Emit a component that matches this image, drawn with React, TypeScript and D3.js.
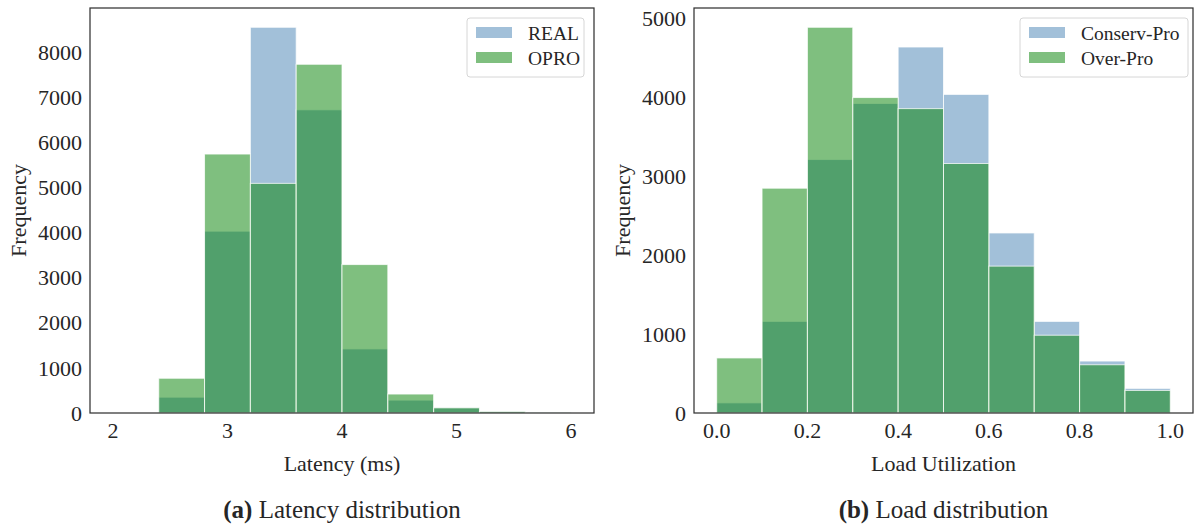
import React from 'react';
import * as d3 from 'd3';

// bin edges and counts
const latencyEdges = [2.0, 2.4, 2.8, 3.2, 3.6, 4.0, 4.4, 4.8, 5.2, 5.6, 6.0];
const realLatency = [0, 350, 4030, 8550, 6720, 1420, 285, 115, 35, 20];
const oproLatency = [0, 770, 5740, 5090, 7730, 3290, 420, 115, 35, 4];
const latencyXTicks = [2, 3, 4, 5, 6];
const latencyYTicks = [0, 1000, 2000, 3000, 4000, 5000, 6000, 7000, 8000];

const loadEdges = [0.0, 0.1, 0.2, 0.3, 0.4, 0.5, 0.6, 0.7, 0.8, 0.9, 1.0];
const conservLoad = [128, 1160, 3210, 3920, 4635, 4035, 2280, 1160, 658, 312];
const overLoad = [697, 2847, 4885, 3995, 3855, 3160, 1860, 985, 611, 286];
const loadXTicks = [0.0, 0.2, 0.4, 0.6, 0.8, 1.0];
const loadYTicks = [0, 1000, 2000, 3000, 4000, 5000];

const BLUE = '#4682b4';
const GREEN = '#008000';
const FONT = '"Liberation Serif", "Times New Roman", serif';

type Panel = {
  left: number;
  right: number;
  edges: number[];
  seriesA: number[];
  seriesB: number[];
  labelA: string;
  labelB: string;
  xTicks: number[];
  yTicks: number[];
  xFmt: (v: number) => string;
  xLabel: string;
  caption: string;
  captionText: string;
  legendW: number;
  legendGap: number;
};

const top = 8;
const bottom = 413;

const Hist = ({ p }: { p: Panel }) => {
  const lo = p.edges[0];
  const hi = p.edges[p.edges.length - 1];
  const pad = (hi - lo) * 0.05;
  const x = d3.scaleLinear().domain([lo - pad, hi + pad]).range([p.left, p.right]);
  const ymax = d3.max([...p.seriesA, ...p.seriesB]) as number;
  const y = d3.scaleLinear().domain([0, ymax * 1.05]).range([bottom, top]);
  const cx = (p.left + p.right) / 2;

  const bars = (vals: number[], color: string, key: string) =>
    vals.map((v, i) => (
      <rect
        key={key + i}
        x={x(p.edges[i])}
        y={y(v)}
        width={x(p.edges[i + 1]) - x(p.edges[i])}
        height={bottom - y(v)}
        fill={color}
        fillOpacity={0.5}
        stroke="#fff"
        strokeOpacity={0.75}
        strokeWidth={1}
      />
    ));

  const lx = p.right - p.legendGap - p.legendW;
  const ly = 18;
  const tx = lx + 61;

  return (
    <g fontFamily={FONT} fill="#262626">
      {bars(p.seriesA, BLUE, 'a')}
      {bars(p.seriesB, GREEN, 'b')}
      <rect x={p.left} y={top} width={p.right - p.left} height={bottom - top} fill="none" stroke="#333" strokeWidth={1.25} />
      {p.xTicks.map(t => (
        <text key={'x' + t} x={x(t)} y={bottom + 25} textAnchor="middle" fontSize={22}>{p.xFmt(t)}</text>
      ))}
      {p.yTicks.map(t => (
        <text key={'y' + t} x={p.left - 8} y={y(t)} dy="0.35em" textAnchor="end" fontSize={22}>{t}</text>
      ))}
      <text x={cx} y={bottom + 58} textAnchor="middle" fontSize={22}>{p.xLabel}</text>
      <text transform={`translate(${p.left - 64},${(top + bottom) / 2}) rotate(-90)`} textAnchor="middle" fontSize={22}>Frequency</text>
      <text x={cx} y={518} textAnchor="middle" fontSize={25}>
        <tspan fontWeight="bold">{p.caption}</tspan> {p.captionText}
      </text>
      <g>
        <rect x={lx} y={ly} width={p.legendW} height={59} rx={3} fill="#fff" fillOpacity={0.8} stroke="#d6d6d6" strokeWidth={1} />
        <rect x={lx + 9} y={ly + 9} width={36} height={11} fill={BLUE} fillOpacity={0.5} />
        <rect x={lx + 9} y={ly + 34} width={36} height={11} fill={GREEN} fillOpacity={0.5} />
        <text x={tx} y={ly + 15} dy="0.35em" fontSize={19.5}>{p.labelA}</text>
        <text x={tx} y={ly + 40} dy="0.35em" fontSize={19.5}>{p.labelB}</text>
      </g>
    </g>
  );
};

const panels: Panel[] = [
  {
    left: 90, right: 594, edges: latencyEdges, seriesA: realLatency, seriesB: oproLatency,
    labelA: 'REAL', labelB: 'OPRO', xTicks: latencyXTicks, yTicks: latencyYTicks,
    xFmt: v => String(v), xLabel: 'Latency (ms)', caption: '(a)', captionText: 'Latency distribution',
    legendW: 117, legendGap: 10,
  },
  {
    left: 694, right: 1193, edges: loadEdges, seriesA: conservLoad, seriesB: overLoad,
    labelA: 'Conserv-Pro', labelB: 'Over-Pro', xTicks: loadXTicks, yTicks: loadYTicks,
    xFmt: d3.format('.1f'), xLabel: 'Load Utilization', caption: '(b)', captionText: 'Load distribution',
    legendW: 168, legendGap: 5,
  },
];

export default function App() {
  return (
    <svg width={1200} height={524} style={{ position: 'absolute', left: 0, top: 0, background: '#fff' }}>
      {panels.map((p, i) => <Hist key={i} p={p} />)}
    </svg>
  );
}
